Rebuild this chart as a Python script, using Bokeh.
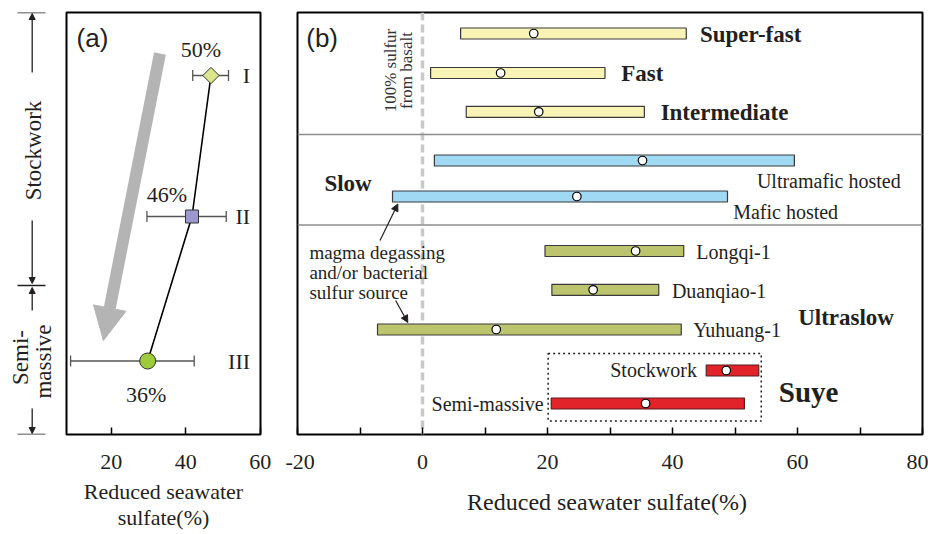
from math import pi

from bokeh.core.properties import value
from bokeh.embed import file_html
from bokeh.layouts import row
from bokeh.models import Arrow, FixedTicker, NormalHead, Range1d, Span
from bokeh.plotting import figure
from bokeh.resources import INLINE

SERIF = value("Liberation Serif")
SANS = value("Liberation Sans")
INK = "#231f20"

# ---------------- data ----------------
# (a) Suye sulfide stages: reduced seawater sulfate (%)
stage_names = ["I", "II", "III"]
stage_mean = [46.8, 41.7, 29.8]
stage_low = [41.9, 29.6, 9.1]
stage_high = [51.5, 50.9, 42.3]
stage_share = ["50%", "46%", "36%"]

# (b) ranges of reduced seawater sulfate (%) for hydrothermal fields
field_names = ["Super-fast", "Fast", "Intermediate", "Ultramafic hosted", "Mafic hosted",
               "Longqi-1", "Duanqiao-1", "Yuhuang-1", "Stockwork", "Semi-massive"]
field_low = [6.1, 1.3, 7.0, 1.9, -4.8, 19.6, 20.7, -7.2, 45.4, 20.6]
field_high = [42.2, 29.2, 35.5, 59.5, 48.8, 41.8, 37.8, 41.4, 53.8, 51.5]
field_mean = [17.8, 12.5, 18.6, 35.2, 24.7, 34.1, 27.3, 11.8, 48.6, 35.7]
field_group = ["fast", "fast", "fast", "slow", "slow",
               "ultraslow", "ultraslow", "ultraslow", "suye", "suye"]

group_fill = {"fast": "#f9f4b6", "slow": "#9fd9f3", "ultraslow": "#bcc46d", "suye": "#e3232a"}
group_line = {"fast": "#3a3a3a", "slow": "#3a3a3a", "ultraslow": "#3a3a3a", "suye": "#5a1c1c"}

# ---------------- layout (vertical pixel rows; frames run from 12 to 434) ----------------
TOP, BOTTOM = 12, 434
stage_rows = [75, 216, 360.5]
field_rows = [33, 72.5, 111.3, 160, 196, 250.5, 289.3, 329, 370, 403]
bar_height = [11] * 10


def blank(p):
    p.xgrid.visible = False
    p.ygrid.visible = False
    p.background_fill_color = "white"
    p.border_fill_color = "white"


def plain_arrow(x0, y0, x1, y1, head=None, width=1.3):
    return Arrow(x_start=x0, y_start=y0, x_end=x1, y_end=y1, line_color=INK,
                 line_width=width, end=head)


def style_axis(ax, label_size):
    ax.major_tick_in = 7
    ax.major_tick_out = 0
    ax.minor_tick_in = 7
    ax.minor_tick_out = 0
    ax.major_tick_line_color = "black"
    ax.minor_tick_line_color = "black"
    ax.major_tick_line_width = 1.5
    ax.minor_tick_line_width = 1.5
    ax.axis_line_color = None
    ax.major_label_standoff = 20
    ax.major_label_text_font = "Liberation Serif"
    ax.major_label_text_font_size = "22px"
    ax.major_label_text_color = INK
    ax.axis_label_text_font = "Liberation Serif"
    ax.axis_label_text_font_size = label_size
    ax.axis_label_text_font_style = "normal"
    ax.axis_label_text_color = INK


# ---------------- side brackets ----------------
side = figure(width=60, height=534, x_range=Range1d(0, 60), y_range=Range1d(BOTTOM, TOP),
              min_border_left=0, min_border_right=0, min_border_top=TOP,
              min_border_bottom=534 - BOTTOM, x_axis_location=None, y_axis_location=None,
              toolbar_location=None, output_backend="svg", outline_line_color=None)
blank(side)
for y in [TOP, 285, BOTTOM]:
    side.add_layout(plain_arrow(17, y, 45, y))
for y0, y1 in [(72, 13), (220, 283), (310, 287), (408, 433)]:
    side.add_layout(plain_arrow(31.7, y0, 31.7, y1,
                                head=NormalHead(size=6, fill_color=INK, line_color=INK)))
side.text(x=[33, 20, 42.5], y=[150, 357, 361], text=["Stockwork", "Semi-", "massive"],
          angle=pi / 2, text_align="center", text_baseline="middle",
          text_font=SERIF, text_font_size="23px", text_color=INK)

# ---------------- panel (a) ----------------
pa = figure(width=225, height=534, x_range=Range1d(8, 60.1), y_range=Range1d(BOTTOM, TOP),
            min_border_left=6, min_border_right=25, min_border_top=TOP,
            min_border_bottom=534 - BOTTOM, y_axis_location=None,
            toolbar_location=None, output_backend="svg")
blank(pa)
pa.outline_line_color = "black"
pa.outline_line_width = 2
pa.outline_line_alpha = 1

pa.add_layout(Arrow(x_start=33.1, y_start=53, x_end=17.9, y_end=340,
                    line_color="#b4b4b4", line_width=12, line_cap="butt",
                    end=NormalHead(size=33, fill_color="#b4b4b4", line_color="#b4b4b4")))

pa.segment(x0=stage_low, x1=stage_high, y0=stage_rows, y1=stage_rows,
           line_color="#555555", line_width=1.3)
pa.scatter(x=stage_low + stage_high, y=stage_rows + stage_rows, marker="dash",
           angle=pi / 2, size=11, line_color="#555555", line_width=1.3)
pa.line(x=stage_mean, y=stage_rows, line_color="black", line_width=1.6)
pa.scatter(x=stage_mean[0:1], y=stage_rows[0:1], marker="square", angle=pi / 4, size=11.5,
           fill_color="#dbe68c", line_color="#333333", line_width=1)
pa.scatter(x=stage_mean[1:2], y=stage_rows[1:2], marker="square", size=13,
           fill_color="#9c97cc", line_color="#333333", line_width=1)
pa.scatter(x=stage_mean[2:3], y=stage_rows[2:3], marker="circle", size=16,
           fill_color="#9dcb3b", line_color="#333333", line_width=1)

pa.text(x=[44.1, 35.0, 29.4], y=[48.5, 194, 393.5], text=stage_share,
        text_align="center", text_baseline="middle", text_font=SERIF,
        text_font_size="22px", text_color=INK)
pa.text(x=[57.3] * 3, y=stage_rows, text=stage_names, text_align="right",
        text_baseline="middle", text_font=SERIF, text_font_size="22px", text_color=INK)
pa.text(x=[10.7], y=[37], text=["(a)"], text_align="left", text_baseline="middle",
        text_font=SANS, text_font_size="26px", text_color=INK)

xa = pa.xaxis[0]
xa.ticker = FixedTicker(ticks=[20, 40, 60])
style_axis(xa, "22px")
xa.minor_tick_line_color = None
xa.axis_label = "Reduced seawater\nsulfate(%)"
xa.axis_label_standoff = 7
xa.axis_label_text_line_height = 1.05

# ---------------- panel (b) ----------------
pb = figure(width=643, height=534, x_range=Range1d(-20, 80), y_range=Range1d(BOTTOM, TOP),
            min_border_left=12, min_border_right=6, min_border_top=TOP,
            min_border_bottom=534 - BOTTOM, y_axis_location=None,
            toolbar_location=None, output_backend="svg")
blank(pb)
pb.outline_line_color = "black"
pb.outline_line_width = 2
pb.outline_line_alpha = 1

pb.add_layout(Span(location=0, dimension="height", line_color="#c8c8c8",
                   line_width=3.5, line_dash="8 4", level="underlay"))
for y_sep in [134, 224.5]:
    pb.add_layout(Span(location=y_sep, dimension="width", line_color="#8c8c8c",
                       line_width=1.5, level="underlay"))

# dotted frame around the Suye ranges
suye_lo = min(l for l, g in zip(field_low, field_group) if g == "suye")
suye_hi = max(h for h, g in zip(field_high, field_group) if g == "suye")
pb.quad(left=[suye_lo - 0.5], right=[suye_hi + 0.4], top=[353], bottom=[420.5],
        fill_alpha=0, line_color=INK, line_width=1.5, line_dash="2 3")

pb.hbar(y=field_rows, left=field_low, right=field_high, height=bar_height,
        fill_color=[group_fill[g] for g in field_group],
        line_color=[group_line[g] for g in field_group], line_width=1.2)
pb.scatter(x=field_mean, y=field_rows, marker="circle", size=8.5,
           fill_color="white", line_color="black", line_width=1.2)

# bold spreading-rate headings
pb.text(x=[44.4, 31.8, 38.1, -15.7, 60.1], y=[34, 73, 111.5, 182.5, 317],
        text=["Super-fast", "Fast", "Intermediate", "Slow", "Ultraslow"],
        text_align="left", text_baseline="middle", text_font=SERIF,
        text_font_style="bold", text_font_size="23px", text_color=INK)
pb.text(x=[57.0], y=[391], text=["Suye"], text_align="left", text_baseline="middle",
        text_font=SERIF, text_font_style="bold", text_font_size="29px", text_color=INK)

# field names
pb.text(x=[53.5, 49.7, 43.8, 39.9, 43.3], y=[180, 211.5, 251.5, 290.5, 329.5],
        text=field_names[3:8], text_align="left", text_baseline="middle",
        text_font=SERIF, text_font_size="20px", text_color=INK)
pb.text(x=[43.9, 19.4], y=[369.5, 403], text=field_names[8:10], text_align="right",
        text_baseline="middle", text_font=SERIF, text_font_size="20px", text_color=INK)

pb.text(x=[-18.1] * 3, y=[252, 272, 292],
        text=["magma  degassing", "and/or  bacterial", "sulfur  source"],
        text_align="left", text_baseline="middle", text_font=SERIF,
        text_font_size="19px", text_color=INK)
pb.text(x=[-5.1, -2.5], y=[70, 70], text=["100% sulfur", "from basalt"], angle=pi / 2,
        text_align="center", text_baseline="middle", text_font=SERIF,
        text_font_size="17px", text_color="#333333")
pb.text(x=[-18.6], y=[37], text=["(b)"], text_align="left", text_baseline="middle",
        text_font=SANS, text_font_size="26px", text_color=INK)

for (x0, y0), (x1, y1) in [((-6.8, 240), (-3.95, 203.5)), ((-4.3, 300), (-2.35, 322))]:
    pb.add_layout(plain_arrow(x0, y0, x1, y1, width=1.2,
                              head=NormalHead(size=7, fill_color=INK, line_color=INK)))

xb = pb.xaxis[0]
xb.ticker = FixedTicker(ticks=[-20, 0, 20, 40, 60, 80], minor_ticks=[-10, 10, 30, 50, 70])
xb.major_label_overrides = {-20: "-20"}
style_axis(xb, "24px")
xb.axis_label = "Reduced seawater  sulfate(%)"
xb.axis_label_standoff = 17

layout = row(side, pa, pb, spacing=0)
open("out.html", "w").write(file_html(layout, INLINE))
